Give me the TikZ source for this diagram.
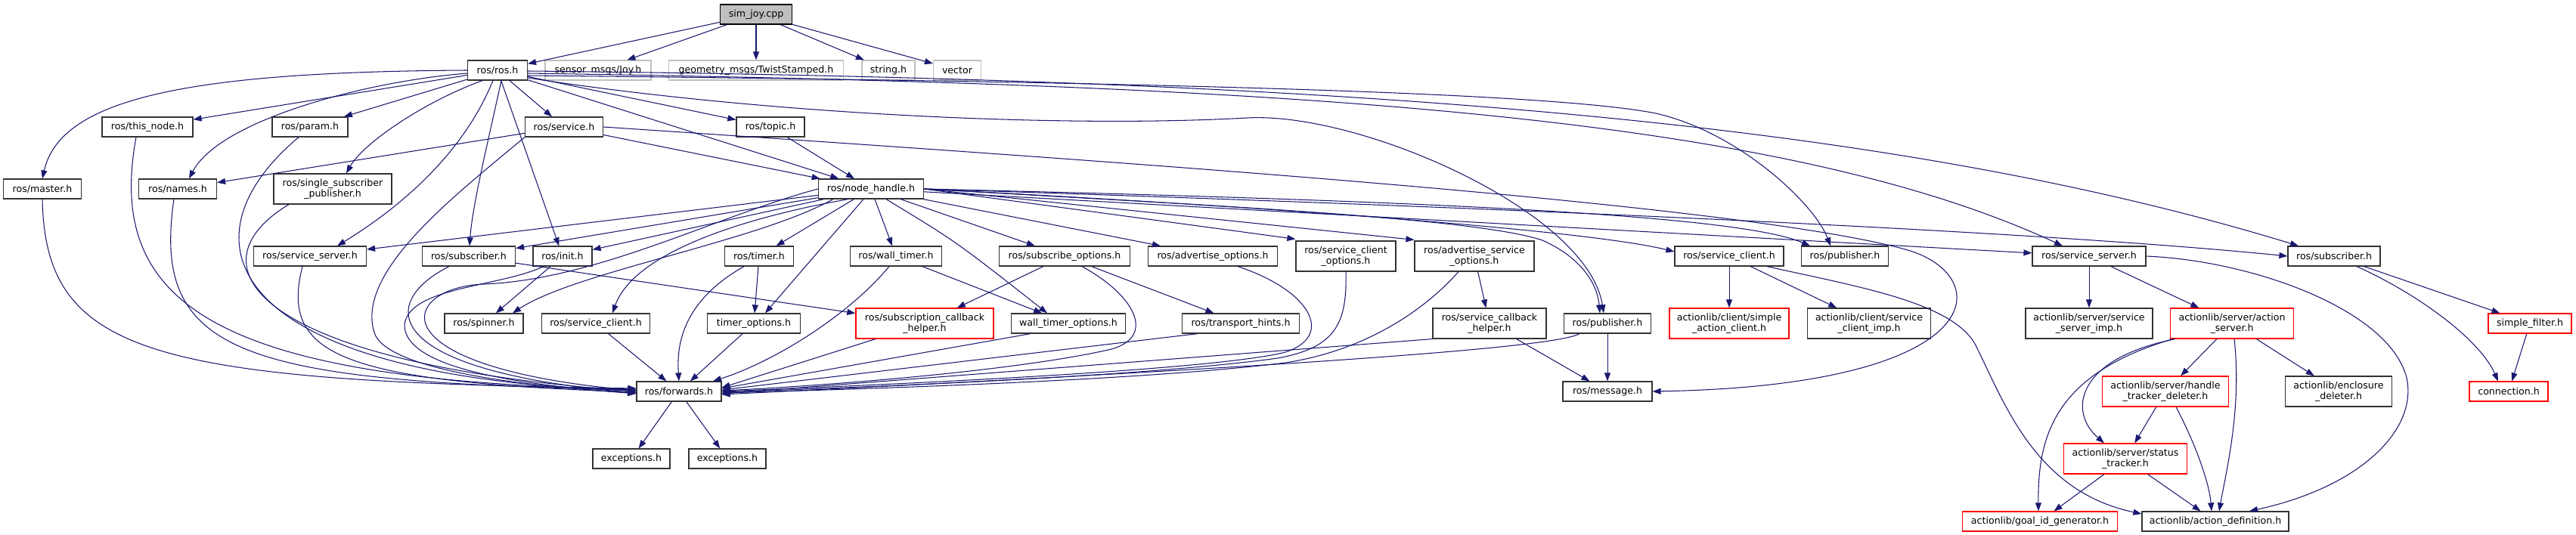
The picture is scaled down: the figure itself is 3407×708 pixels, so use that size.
\documentclass[tikz,border=0pt]{standalone}
\usepackage{fontspec}
\setmainfont{DejaVu Sans}
\usetikzlibrary{arrows.meta}
\definecolor{edgec}{HTML}{191970}
\definecolor{bordc}{HTML}{333333}
\definecolor{grayb}{HTML}{BFBFBF}
\definecolor{redb}{HTML}{FF0000}
\begin{document}
\begin{tikzpicture}[x=1pt,y=-1pt,
  nd/.style={draw=bordc, line width=1.2pt, fill=white, inner sep=0pt,
    minimum height=26pt, align=center, font=\fontsize{12.6}{14}\selectfont},
  two/.style={minimum height=40pt},
  rd/.style={draw=redb},
  gr/.style={draw=grayb},
  dep/.style={draw=edgec, color=edgec, line width=1.05pt,
    -{Triangle[length=11pt,width=8pt]}}]
\useasboundingbox (0,0) rectangle (3407,708);
\fill[white] (0,0) rectangle (3407,708);

% ---------------- nodes ----------------
\node[nd, fill=grayb, draw=black, minimum width=95pt] (simjoy) at (1000,19) {sim\_joy.cpp};

\node[nd, minimum width=79pt] (ros) at (658,93) {ros/ros.h};
\node[nd, gr, minimum width=140pt] (joy) at (791,93) {sensor\_msgs/Joy.h};
\node[nd, gr, minimum width=231pt] (twist) at (1000,93) {geometry\_msgs/TwistStamped.h};
\node[nd, gr, minimum width=70pt] (string) at (1175,93) {string.h};
\node[nd, gr, minimum width=63pt] (vector) at (1266,93) {vector};

\node[nd, minimum width=120pt] (thisnode) at (195,168) {ros/this\_node.h};
\node[nd, minimum width=100pt] (param) at (410,168) {ros/param.h};
\node[nd, minimum width=103pt] (service) at (746,168) {ros/service.h};
\node[nd, minimum width=90pt] (topic) at (1019,168) {ros/topic.h};

\node[nd, minimum width=103pt] (master) at (56,250) {ros/master.h};
\node[nd, minimum width=103pt] (names) at (235,250) {ros/names.h};
\node[nd, two, minimum width=156pt] (single) at (440,250) {ros/single\_subscriber\\\_publisher.h};
\node[nd, minimum width=139pt] (nh) at (1152,250) {ros/node\_handle.h};

\node[nd, minimum width=149pt] (ssL) at (410,339) {ros/service\_server.h};
\node[nd, minimum width=123pt] (subL) at (620,339) {ros/subscriber.h};
\node[nd, minimum width=78pt] (init) at (744,339) {ros/init.h};
\node[nd, minimum width=91pt] (timer) at (1004,339) {ros/timer.h};
\node[nd, minimum width=121pt] (walltimer) at (1185,339) {ros/wall\_timer.h};
\node[nd, minimum width=173pt] (subopt) at (1408,339) {ros/subscribe\_options.h};
\node[nd, minimum width=171pt] (advopt) at (1604,339) {ros/advertise\_options.h};
\node[nd, two, minimum width=132pt] (scopt) at (1780,339) {ros/service\_client\\\_options.h};
\node[nd, two, minimum width=158pt] (asopt) at (1950,339) {ros/advertise\_service\\\_options.h};
\node[nd, minimum width=144pt] (scR) at (2287,339) {ros/service\_client.h};
\node[nd, minimum width=115pt] (pubU) at (2440,339) {ros/publisher.h};
\node[nd, minimum width=150pt] (ssR) at (2763,339) {ros/service\_server.h};
\node[nd, minimum width=122pt] (subR) at (3087,339) {ros/subscriber.h};

\node[nd, minimum width=104pt] (spinner) at (640,428) {ros/spinner.h};
\node[nd, minimum width=143pt] (scL) at (788,428) {ros/service\_client.h};
\node[nd, minimum width=123pt] (timeropt) at (997,428) {timer\_options.h};
\node[nd, two, rd, minimum width=182pt] (sch) at (1223,428) {ros/subscription\_callback\\\_helper.h};
\node[nd, minimum width=151pt] (wtopt) at (1413,428) {wall\_timer\_options.h};
\node[nd, minimum width=155pt] (th) at (1641,428) {ros/transport\_hints.h};
\node[nd, two, minimum width=150pt] (svcch) at (1970,428) {ros/service\_callback\\\_helper.h};
\node[nd, minimum width=115pt] (pubL) at (2126,428) {ros/publisher.h};
\node[nd, two, rd, minimum width=158pt] (sac) at (2287,428) {actionlib/client/simple\\\_action\_client.h};
\node[nd, two, minimum width=163pt] (scimp) at (2472,428) {actionlib/client/service\\\_client\_imp.h};
\node[nd, two, minimum width=168pt] (ssimp) at (2763,428) {actionlib/server/service\\\_server\_imp.h};
\node[nd, two, rd, minimum width=163pt] (as) at (2952,428) {actionlib/server/action\\\_server.h};
\node[nd, rd, minimum width=110pt] (sf) at (3346,428) {simple\_filter.h};

\node[nd, minimum width=112pt] (fwd) at (898,518) {ros/forwards.h};
\node[nd, minimum width=118pt] (msg) at (2126,518) {ros/message.h};
\node[nd, two, rd, minimum width=167pt] (htd) at (2864,518) {actionlib/server/handle\\\_tracker\_deleter.h};
\node[nd, two, minimum width=141pt] (encl) at (3093,518) {actionlib/enclosure\\\_deleter.h};
\node[nd, rd, minimum width=104pt] (conn) at (3318,518) {connection.h};

\node[nd, minimum width=102pt] (exc1) at (835,607) {exceptions.h};
\node[nd, minimum width=102pt] (exc2) at (962,607) {exceptions.h};
\node[nd, two, rd, minimum width=163pt] (st) at (2811,607) {actionlib/server/status\\\_tracker.h};

\node[nd, rd, minimum width=205pt] (goal) at (2698,690) {actionlib/goal\_id\_generator.h};
\node[nd, minimum width=194pt] (ad) at (2930,690) {actionlib/action\_definition.h};

% ---------------- edges ----------------
% sim_joy.cpp
\draw[dep] (simjoy) -- (ros);
\draw[dep] (simjoy) -- (joy);
\draw[dep] (simjoy) -- (twist);
\draw[dep] (simjoy) -- (string);
\draw[dep] (simjoy) -- (vector);

% ros/ros.h
\draw[dep] (ros.west) .. controls (250,95) and (80,130) .. (master.north);
\draw[dep] (ros) -- (thisnode);
\draw[dep] (ros) -- (param);
\draw[dep] ([yshift=-4]ros.west) .. controls (480,108) and (290,160) .. ([xshift=15]names.north);
\draw[dep] ([xshift=-20]ros.south) .. controls (560,135) and (480,190) .. ([xshift=18]single.north);
\draw[dep] (ros) -- (service);
\draw[dep] ([xshift=-6]ros.south) .. controls (610,210) and (520,280) .. ([xshift=36]ssL.north);
\draw[dep] ([xshift=5]ros.south) .. controls (645,190) and (625,270) .. ([xshift=1]subL.north);
\draw[dep] (ros) -- (init);
\draw[dep] (ros) -- (nh);
\draw[dep] (ros) -- (topic);
\draw[dep] ([yshift=-10]ros.east) .. controls (1000,150) and (1400,170) .. (1650,156)
   .. controls (1800,148) and (2100,280) .. ([xshift=-5]pubL.north);
\draw[dep] ([yshift=-7]ros.east) .. controls (1500,108) and (2050,122) .. (2190,150)
   .. controls (2300,175) and (2400,270) .. ([xshift=-19]pubU.north);
\draw[dep] ([yshift=-4]ros.east) .. controls (1700,112) and (2350,150) .. ([xshift=-35]ssR.north);
\draw[dep] ([yshift=-1]ros.east) .. controls (1800,105) and (2500,160) .. ([xshift=-47]subR.north);

% ros/service.h
\draw[dep] (service) -- (names);
\draw[dep] (service) -- (nh);
\draw[dep] (service.east) .. controls (1500,215) and (2300,270) .. (2520,330)
   .. controls (2640,363) and (2640,510) .. (msg.east);
\draw[dep] (service.south west) .. controls (600,260) and (470,360) .. (495,440)
   .. controls (510,490) and (700,512) .. ([yshift=-2]fwd.west);

% ros/topic.h
\draw[dep] (topic) -- (nh);

% ros/node_handle.h
\draw[dep] (nh) -- (ssL);
\draw[dep] (nh) -- (subL);
\draw[dep] (nh) -- (init);
\draw[dep] (nh.west) .. controls (950,285) and (790,370) .. (640,376)
   .. controls (530,380) and (490,485) .. ([yshift=1]fwd.west);
\draw[dep] ([xshift=-50]nh.south) .. controls (1000,320) and (760,360) .. ([xshift=38]spinner.north);
\draw[dep] ([xshift=-30]nh.south) .. controls (1000,285) and (840,330) .. ([xshift=22]scL.north);
\draw[dep] (nh) -- (timer);
\draw[dep] ([xshift=-10]nh.south) -- ([xshift=15]timeropt.north);
\draw[dep] (nh) -- (walltimer);
\draw[dep] ([xshift=20]nh.south) .. controls (1265,320) .. ([xshift=-28]wtopt.north);
\draw[dep] (nh) -- (subopt);
\draw[dep] (nh) -- (advopt);
\draw[dep] (nh.east) -- ([yshift=2]scopt.north west);
\draw[dep] (nh.east) -- ([yshift=1]asopt.north west);
\draw[dep] (nh.east) .. controls (1600,272) and (1950,288) .. (2040,318)
   .. controls (2085,338) and (2112,370) .. ([xshift=-10]pubL.north);
\draw[dep] (nh.east) .. controls (1700,275) and (2100,305) .. ([yshift=6]scR.west);
\draw[dep] (nh.east) .. controls (1900,266) and (2300,285) .. ([xshift=-46]pubU.north);
\draw[dep] (nh) -- (ssR);
\draw[dep] (nh.east) .. controls (2000,275) and (2700,306) .. (subR.west);

% into ros/forwards.h from the left
\draw[dep] (master.south) .. controls (60,470) and (200,505) .. ([yshift=4]fwd.west);
\draw[dep] ([xshift=-15]thisnode.south) .. controls (140,400) and (280,505) .. ([yshift=3]fwd.west);
\draw[dep] ([xshift=-5]names.south) .. controls (200,470) and (320,505) .. ([yshift=2]fwd.west);
\draw[dep] ([xshift=-15]param.south) .. controls (230,320) and (300,500) .. ([yshift=1]fwd.west);
\draw[dep] ([xshift=-58]single.south) .. controls (250,350) and (330,480) .. (fwd.west);
\draw[dep] ([xshift=-10]ssL.south) .. controls (370,470) and (450,505) .. ([yshift=-1]fwd.west);
\draw[dep] ([xshift=-26]subL.south) .. controls (500,400) and (500,490) .. ([yshift=-2]fwd.west);
\draw[dep] ([xshift=-25]init.south) .. controls (660,380) and (540,380) .. (535,430)
   .. controls (535,490) and (700,510) .. ([yshift=-3]fwd.west);

% subscriber / init
\draw[dep] (subL) -- (sch);
\draw[dep] (init) -- (spinner);

% timers
\draw[dep] (timer) -- (timeropt);
\draw[dep] ([xshift=-20]timer.south) .. controls (900,400) and (895,460) .. (fwd.north);
\draw[dep] (timeropt) -- (fwd);
\draw[dep] (scL) -- (fwd);
\draw[dep] (walltimer) -- (wtopt);
\draw[dep] ([xshift=-9]walltimer.south) .. controls (1120,420) and (1020,480) .. ([xshift=45]fwd.north);

% into ros/forwards.h from the right
\draw[dep] (sch) -- ([yshift=5]fwd.east);
\draw[dep] ([xshift=-50]wtopt.south) -- ([yshift=4]fwd.east);
\draw[dep] ([xshift=-57]th.south) -- ([yshift=2]fwd.east);
\draw[dep] ([xshift=23]subopt.south) .. controls (1500,390) and (1530,445) .. (1470,462)
   .. controls (1350,490) and (1100,510) .. ([yshift=1]fwd.east);
\draw[dep] ([xshift=33]advopt.south) .. controls (1735,385) and (1765,445) .. (1700,466)
   .. controls (1600,492) and (1100,512) .. (fwd.east);
\draw[dep] (scopt.south) .. controls (1782,430) and (1765,460) .. (1690,474)
   .. controls (1500,500) and (1100,514) .. ([yshift=-1]fwd.east);
\draw[dep] ([xshift=-21]asopt.south) .. controls (1880,415) and (1800,465) .. (1700,480)
   .. controls (1500,505) and (1100,516) .. ([yshift=-2]fwd.east);
\draw[dep] (svcch.south west) -- ([yshift=-3]fwd.east);
\draw[dep] ([xshift=-37]pubL.south) .. controls (2050,465) and (1500,495) .. ([yshift=-4]fwd.east);

% options
\draw[dep] (subopt) -- (sch);
\draw[dep] (subopt) -- (th);
\draw[dep] (asopt) -- (svcch);
\draw[dep] (svcch) -- (msg);
\draw[dep] (pubL) -- (msg);

% right hand ros/service_client.h
\draw[dep] (scR) -- (sac);
\draw[dep] (scR) -- (scimp);
\draw[dep] ([xshift=50]scR.south) .. controls (2460,380) and (2580,400) .. (2612,455)
   .. controls (2650,530) and (2690,650) .. ([yshift=10]ad.west);

% right hand ros/service_server.h
\draw[dep] (ssR) -- (ssimp);
\draw[dep] (ssR) -- (as);
\draw[dep] (ssR.east) .. controls (2980,345) and (3160,410) .. (3183,500)
   .. controls (3198,570) and (3120,645) .. ([xshift=45]ad.north);

% right hand ros/subscriber.h
\draw[dep] (subR) -- (sf);
\draw[dep] ([xshift=30]subR.south) .. controls (3200,390) and (3280,450) .. ([xshift=-14]conn.north);
\draw[dep] (sf) -- (conn);

% actionlib server
\draw[dep] (as) -- (htd);
\draw[dep] (as) -- (encl);
\draw[dep] ([xshift=3]as.south) .. controls (2965,540) and (2945,620) .. ([xshift=5]ad.north);
\draw[dep] ([xshift=-75]as.south) .. controls (2745,475) and (2735,545) .. ([xshift=-28]st.north);
\draw[dep] ([xshift=-78]as.south) .. controls (2715,495) and (2695,580) .. ([xshift=-2]goal.north);
\draw[dep] (htd) -- (st);
\draw[dep] ([xshift=14]htd.south) .. controls (2905,590) and (2922,640) .. ([xshift=-5]ad.north);
\draw[dep] (st) -- (goal);
\draw[dep] (st) -- (ad);

% forwards
\draw[dep] (fwd) -- (exc1);
\draw[dep] (fwd) -- (exc2);
\end{tikzpicture}
\end{document}
